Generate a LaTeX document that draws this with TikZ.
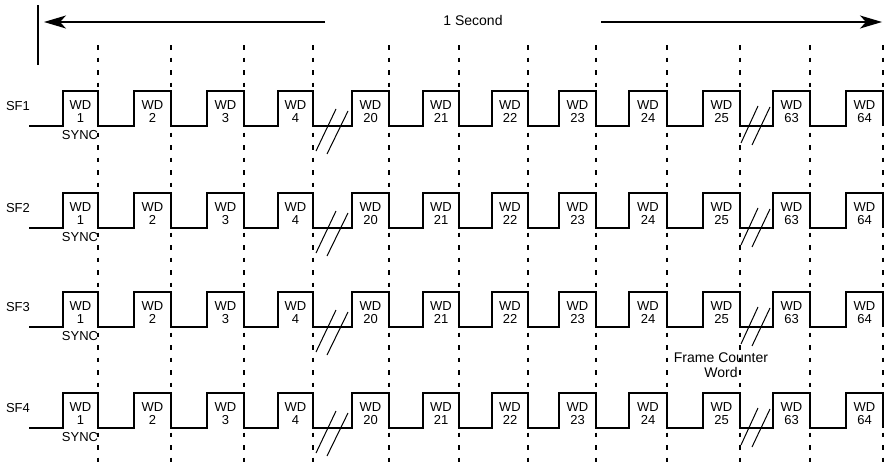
\documentclass[tikz,border=0pt]{standalone}
\usepackage{fontspec}
\setmainfont{Liberation Sans}
\usetikzlibrary{arrows.meta}
\tikzset{
  wave/.style={line width=1.2pt},
  tick/.style={line width=1.2pt,dash pattern=on 4.5pt off 8pt},
  slash/.style={line width=1pt},
  lbl/.style={font=\fontsize{13}{13}\selectfont,inner sep=0pt,align=center},
  biglbl/.style={font=\fontsize{14}{15}\selectfont,inner sep=0pt,align=center},
  span/.style={line width=1.1pt,-{Stealth[length=22pt,width=13pt,inset=6pt]}}
}

\begin{document}
\begin{tikzpicture}[x=1pt,y=-1pt]
\useasboundingbox (0,0) rectangle (885,471);
% one second span
\draw[line width=1.1pt] (38,5) -- (38,65);
\node[biglbl] (sec) at (473,20) {1 Second};
\coordinate (la) at (325,22);
\coordinate (lt) at (44,22);
\coordinate (ra) at (601,22);
\coordinate (rt) at (882,22);
\draw[span] (la) -- (lt);
\draw[span] (ra) -- (rt);
% word boundaries
\foreach \x in {98,171,244,313,389,459,528,596,667,740,810,883}
  \draw[tick] (\x,45) -- (\x,468);
% subframes
\foreach \r/\hi in {1/91,2/193,3/292,4/393} {
  \pgfmathsetmacro\lo{\hi+35}
  \node[lbl] (sf\r) at (18,\hi+15) {SF\r};
  \draw[wave] (29,\lo)
    foreach \a/\b in {63/98,134/171,207/244,278/313,352/389,423/459,
                      492/528,559/596,629/667,703/740,773/810,846/883}
      { -- (\a,\lo) -- (\a,\hi) -- (\b,\hi) -- (\b,\lo) };
  \foreach \a/\b/\w in {63/98/1,134/171/2,207/244/3,278/313/4,352/389/20,
                        423/459/21,492/528/22,559/596/23,629/667/24,
                        703/740/25,773/810/63,846/883/64}
    \node[lbl] (wd\r-\w) at ({(\a+\b)/2},\hi+20.5) {WD\\\w};
  \node[lbl] (sync\r) at (80,\lo+9) {SYNC};
  % breaks
  \draw[slash] (316,\lo+25) -- (336,\lo-17);
  \draw[slash] (327,\lo+28) -- (348,\lo-15);
  \draw[slash] (741,\lo+17) -- (758,\lo-20);
  \draw[slash] (752,\lo+19) -- (770,\lo-19);
}
\node[biglbl] (fcw) at (721,365) {Frame Counter\\Word};
\end{tikzpicture}
\end{document}
